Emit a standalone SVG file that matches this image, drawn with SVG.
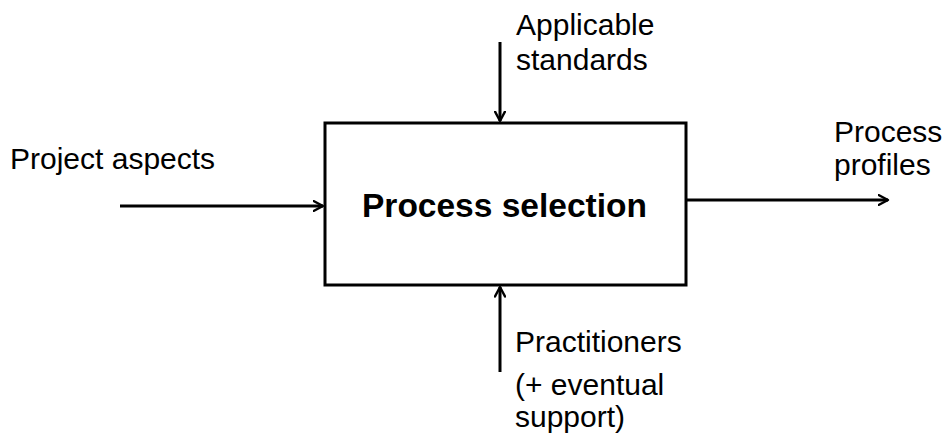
<svg xmlns="http://www.w3.org/2000/svg" width="944" height="439" viewBox="0 0 944 439">
  <defs>
    <marker id="arrow" viewBox="0 0 12 12" refX="10.5" refY="6" markerWidth="12" markerHeight="12" markerUnits="userSpaceOnUse" orient="auto">
      <path d="M1,1 L10.5,6 L1,11" fill="none" stroke="#000" stroke-width="2.4" stroke-linecap="round" stroke-linejoin="round"/>
    </marker>
  </defs>
  <style>
    .label { font-family: "Liberation Sans", Arial, sans-serif; font-size: 30px; fill: #000; }
    .title { font-family: "Liberation Sans", Arial, sans-serif; font-size: 33.5px; font-weight: bold; fill: #000; }
    .box { fill: #fff; stroke: #000; stroke-width: 3; }
    .conn { stroke: #000; stroke-width: 3; fill: none; marker-end: url(#arrow); }
  </style>
  <rect width="944" height="439" fill="#fff"/>

  <g id="process-selection">
    <rect class="box" x="325" y="123" width="361" height="162"/>
    <text class="title" x="362" y="217">Process selection</text>
  </g>

  <g id="applicable-standards">
    <text class="label" x="516" y="35">Applicable</text>
    <text class="label" x="516" y="70">standards</text>
  </g>

  <g id="project-aspects">
    <text class="label" x="10" y="169">Project aspects</text>
  </g>

  <g id="process-profiles">
    <text class="label" x="834" y="142">Process</text>
    <text class="label" x="834" y="175">profiles</text>
  </g>

  <g id="practitioners">
    <text class="label" x="515" y="352">Practitioners</text>
    <text class="label" x="515" y="395">(+ eventual</text>
    <text class="label" x="515" y="427">support)</text>
  </g>

  <g id="connectors">
    <line class="conn" x1="500" y1="42" x2="500" y2="121"/>
    <line class="conn" x1="120" y1="206" x2="323" y2="206"/>
    <line class="conn" x1="687" y1="200" x2="888" y2="200"/>
    <line class="conn" x1="500" y1="372" x2="500" y2="287"/>
  </g>
</svg>
